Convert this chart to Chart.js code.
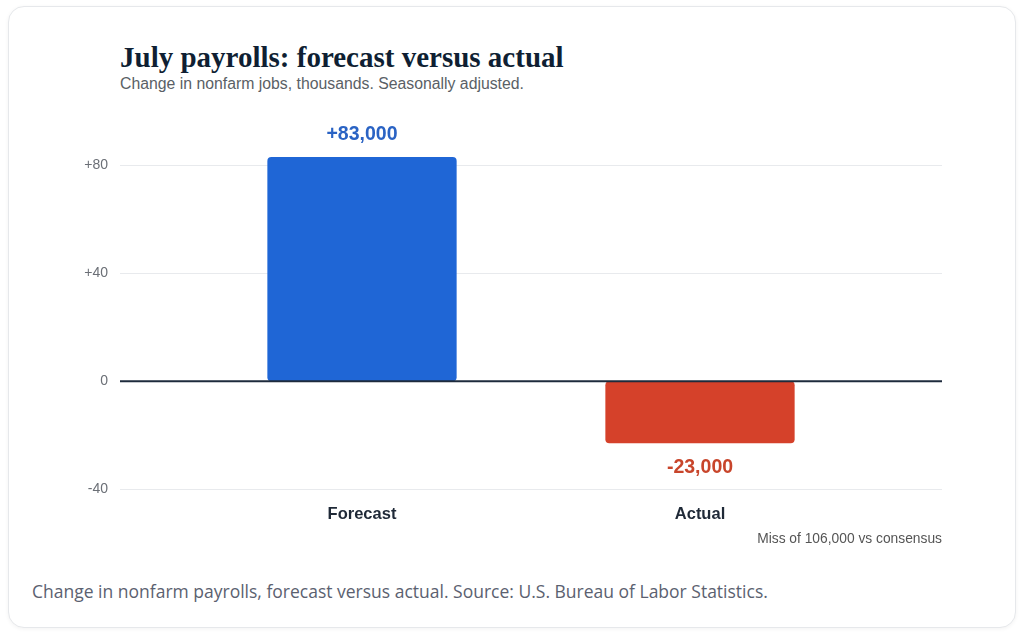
<!DOCTYPE html>
<html lang="en">
<head>
    <meta charset="UTF-8">
    <title>July payrolls</title>
    <script src="https://cdn.jsdelivr.net/npm/chart.js"></script>
    <style>
        html, body { margin: 0; padding: 0; background: #fff; }
        body { width: 1024px; height: 634px; position: relative; overflow: hidden; }
        .card {
            position: absolute; left: 8px; top: 6px; width: 1006px; height: 620px;
            border: 1px solid #e6e8eb; border-radius: 16px; background: #fff;
            box-shadow: 0 1px 4px rgba(0,0,0,0.05);
        }
        .title {
            position: absolute; left: 120px; top: 41px; margin: 0;
            font: bold 29px "Liberation Serif", serif; color: #0f1f33; white-space: nowrap;
        }
        .subtitle {
            position: absolute; left: 120px; top: 75px;
            font: 15.8px "Liberation Sans", Arial, sans-serif; color: #5a5f66; white-space: nowrap;
        }
        .note {
            position: absolute; right: 82px; top: 531px;
            font: 13.8px "Liberation Sans", Arial, sans-serif; color: #555; white-space: nowrap;
        }
        .caption {
            position: absolute; left: 32px; top: 579px;
            font: 17.5px "Open Sans", sans-serif; color: #5b6170; white-space: nowrap;
        }
        .wrap { position: absolute; left: 0; top: 100px; width: 1024px; height: 439px; }
    </style>
</head>
<body>
    <div class="card"></div>
    <h1 class="title">July payrolls: forecast versus actual</h1>
    <div class="subtitle">Change in nonfarm jobs, thousands. Seasonally adjusted.</div>
    <div class="wrap"><canvas id="myChart"></canvas></div>
    <div class="note">Miss of 106,000 vs consensus</div>
    <div class="caption">Change in nonfarm payrolls, forecast versus actual. Source: U.S. Bureau of Labor Statistics.</div>

<script>
    // data (thousands)
    const categories = ['Forecast', 'Actual'];
    const payrollValues = [83, -23];
    const barColors = ['#1f66d6', '#d5412a'];
    const labelColors = ['#2a63c4', '#c8452b'];
    const yTicks = [-40, 0, 40, 80];

    // grid lines run wider than the bars' plot area
    const gridLeft = 120, gridRight = 942;

    const gridPlugin = {
        id: 'wideGrid',
        beforeDatasetsDraw(chart) {
            const ctx = chart.ctx;
            const y = chart.scales.y;
            ctx.save();
            ctx.strokeStyle = '#e8eaed';
            ctx.lineWidth = 1;
            y.ticks.forEach(t => {
                if (t.value === 0) return;
                const py = Math.round(y.getPixelForValue(t.value)) + 0.5;
                ctx.beginPath();
                ctx.moveTo(gridLeft, py);
                ctx.lineTo(gridRight, py);
                ctx.stroke();
            });
            ctx.restore();
        },
        afterDatasetsDraw(chart) {
            const ctx = chart.ctx;
            const y = chart.scales.y;
            const py = y.getPixelForValue(0);
            ctx.save();
            ctx.strokeStyle = '#1e2b3c';
            ctx.lineWidth = 2;
            ctx.beginPath();
            ctx.moveTo(gridLeft, py);
            ctx.lineTo(gridRight, py);
            ctx.stroke();

            // value labels
            const meta = chart.getDatasetMeta(0);
            ctx.font = 'bold 19.5px "Liberation Sans", Arial, sans-serif';
            ctx.textAlign = 'center';
            ctx.textBaseline = 'middle';
            meta.data.forEach((bar, i) => {
                const v = payrollValues[i];
                const txt = (v > 0 ? '+' : '-') + Math.abs(v * 1000).toLocaleString('en-US');
                ctx.fillStyle = labelColors[i];
                ctx.fillText(txt, bar.x, v >= 0 ? bar.y - 22 : bar.y + 24);
            });
            ctx.restore();
        }
    };

    const ctx = document.getElementById('myChart').getContext('2d');
    const myChart = new Chart(ctx, {
        type: 'bar',
        data: {
            labels: categories,
            datasets: [{
                data: payrollValues,
                backgroundColor: barColors,
                borderRadius: 4,
                borderSkipped: false,
                barPercentage: 0.56,
                categoryPercentage: 1
            }]
        },
        options: {
            responsive: true,
            maintainAspectRatio: false,
            animation: false,
            layout: { padding: { left: 60, right: 155, top: 11, bottom: 8 } },
            plugins: {
                legend: { display: false },
                tooltip: { enabled: false }
            },
            scales: {
                x: {
                    grid: { display: false },
                    border: { display: false },
                    ticks: {
                        padding: 7,
                        color: '#1f2937',
                        font: { family: '"Liberation Sans", Arial, sans-serif', size: 16.5, weight: 'bold' }
                    }
                },
                y: {
                    min: -40,
                    max: 100,
                    grid: { display: false },
                    border: { display: false },
                    afterBuildTicks(scale) {
                        scale.ticks = yTicks.map(v => ({ value: v }));
                    },
                    afterFit(scale) {
                        scale.width = 133;
                        scale.paddingTop = 0;
                        scale.paddingBottom = 0;
                    },
                    ticks: {
                        padding: 77,
                        color: '#6b6f76',
                        font: { family: '"Liberation Sans", Arial, sans-serif', size: 14 },
                        callback: v => (v > 0 ? '+' + v : '' + v)
                    }
                }
            }
        },
        plugins: [gridPlugin]
    });
</script>
</body>
</html>
